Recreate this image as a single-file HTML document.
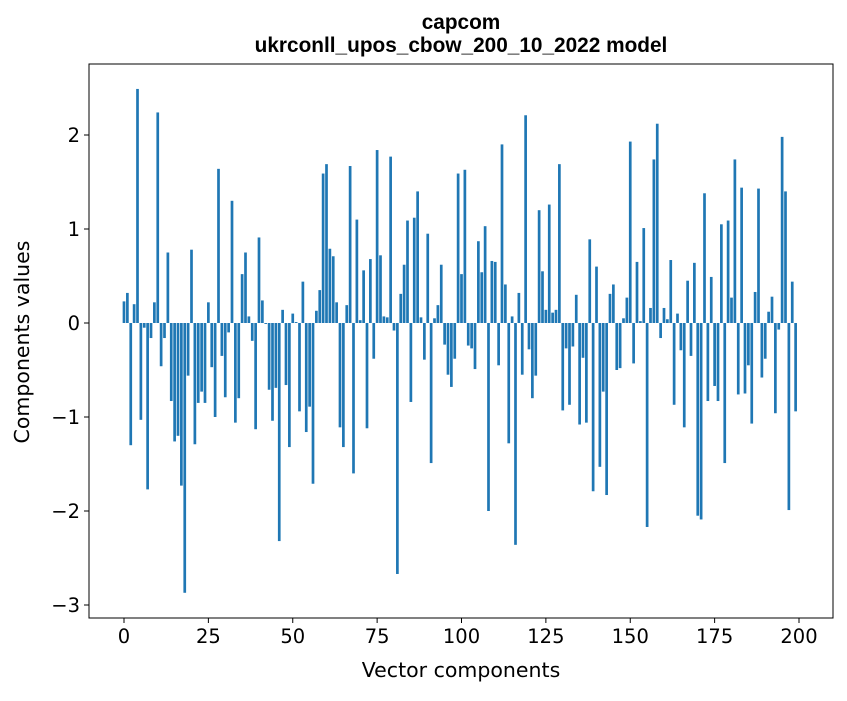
<!DOCTYPE html>
<html><head><meta charset="utf-8"><style>
body{margin:0;background:#fff}
svg text{font-family:"DejaVu Sans","Liberation Sans",sans-serif;fill:#000}
svg text.ttl{font-family:"Liberation Sans",sans-serif}
</style></head><body>
<svg id="chart" width="847" height="696" viewBox="0 0 847 696" xmlns="http://www.w3.org/2000/svg">
<rect width="847" height="696" fill="#fff"/>
<text class="ttl" x="461" y="29" text-anchor="middle" font-size="20.8" font-weight="bold">capcom</text>
<text class="ttl" x="461" y="52" text-anchor="middle" font-size="20.8" font-weight="bold">ukrconll_upos_cbow_200_10_2022 model</text>
<g id="bars"></g>
<g id="axes"></g>
<rect x="89" y="64" width="744" height="554" fill="none" stroke="#000" stroke-width="1"/>
<text x="461" y="677" text-anchor="middle" font-size="20.5">Vector components</text>
<text transform="translate(29,342) rotate(-90)" text-anchor="middle" font-size="20.5">Components values</text>
</svg>
<script>
const values = [0.23,0.32,-1.30,0.2,2.49,-1.03,-0.05,-1.77,-0.16,0.22,
2.24,-0.46,-0.16,0.75,-0.83,-1.26,-1.2,-1.73,-2.87,-0.56,
0.78,-1.29,-0.85,-0.73,-0.85,0.22,-0.47,-1.0,1.64,-0.35,
-0.79,-0.1,1.30,-1.06,-0.8,0.52,0.75,0.07,-0.19,-1.13,
0.91,0.24,-0.01,-0.71,-1.04,-0.69,-2.32,0.14,-0.66,-1.32,
0.1,0.01,-0.94,0.44,-1.16,-0.89,-1.71,0.13,0.35,1.59,
1.69,0.79,0.71,0.22,-1.11,-1.32,0.19,1.67,-1.60,1.10,
0.03,0.56,-1.12,0.68,-0.38,1.84,0.72,0.07,0.06,1.77,
-0.08,-2.67,0.31,0.62,1.09,-0.84,1.12,1.40,0.06,-0.39,
0.95,-1.49,0.05,0.19,0.62,-0.23,-0.55,-0.68,-0.38,1.59,
0.52,1.63,-0.24,-0.27,-0.49,0.87,0.54,1.03,-2.00,0.66,
0.65,-0.45,1.90,0.41,-1.28,0.07,-2.36,0.32,-0.55,2.21,
-0.28,-0.80,-0.56,1.20,0.55,0.14,1.26,0.11,0.14,1.69,
-0.93,-0.27,-0.87,-0.25,0.30,-1.08,-0.37,-1.06,0.89,-1.79,
0.60,-1.53,-0.73,-1.83,0.31,0.41,-0.50,-0.48,0.05,0.27,
1.93,-0.43,0.65,0.02,1.01,-2.17,0.16,1.74,2.12,-0.16,
0.16,0.04,0.67,-0.87,0.1,-0.29,-1.11,0.45,-0.35,0.64,
-2.05,-2.09,1.38,-0.83,0.49,-0.67,-0.83,1.05,-1.49,1.09,
0.27,1.74,-0.76,1.44,-0.75,-0.45,-1.07,0.33,1.43,-0.58,
-0.38,0.12,0.28,-0.96,-0.07,1.98,1.40,-1.99,0.44,-0.94];
const xTicks = [0,25,50,75,100,125,150,175,200];
const yTicks = [-3,-2,-1,0,1,2];
const yTickLabels = ["\u22123","\u22122","\u22121","0","1","2"];

const NS = "http://www.w3.org/2000/svg";
const xs = v => 124 + v * 3.375;
const ys = v => 323 - v * 94;
const barsG = document.getElementById('bars');
values.forEach((v, i) => {
  const r = document.createElementNS(NS, 'rect');
  const x0 = xs(i - 0.4), x1 = xs(i + 0.4);
  r.setAttribute('x', x0);
  r.setAttribute('width', x1 - x0);
  r.setAttribute('y', Math.min(ys(v), ys(0)));
  r.setAttribute('height', Math.abs(ys(v) - ys(0)));
  r.setAttribute('fill', '#1f77b4');
  
  
  barsG.appendChild(r);
});
const axesG = document.getElementById('axes');
xTicks.forEach(t => {
  const l = document.createElementNS(NS, 'line');
  l.setAttribute('x1', xs(t)); l.setAttribute('x2', xs(t));
  l.setAttribute('y1', 618); l.setAttribute('y2', 623);
  l.setAttribute('stroke', '#000');
  
  
  axesG.appendChild(l);
  const tx = document.createElementNS(NS, 'text');
  tx.setAttribute('x', xs(t)); tx.setAttribute('y', 643);
  tx.setAttribute('text-anchor', 'middle'); tx.setAttribute('font-size', '19.5');
  tx.textContent = t;
  
  
  axesG.appendChild(tx);
});
yTicks.forEach((t, i) => {
  const l = document.createElementNS(NS, 'line');
  l.setAttribute('x1', 84); l.setAttribute('x2', 89);
  l.setAttribute('y1', ys(t)); l.setAttribute('y2', ys(t));
  l.setAttribute('stroke', '#000');
  
  
  axesG.appendChild(l);
  const tx = document.createElementNS(NS, 'text');
  tx.setAttribute('x', 80); tx.setAttribute('y', ys(t) + 7);
  tx.setAttribute('text-anchor', 'end'); tx.setAttribute('font-size', '19.5');
  tx.textContent = yTickLabels[i];
  
  
  axesG.appendChild(tx);
});
</script>
</body></html>
